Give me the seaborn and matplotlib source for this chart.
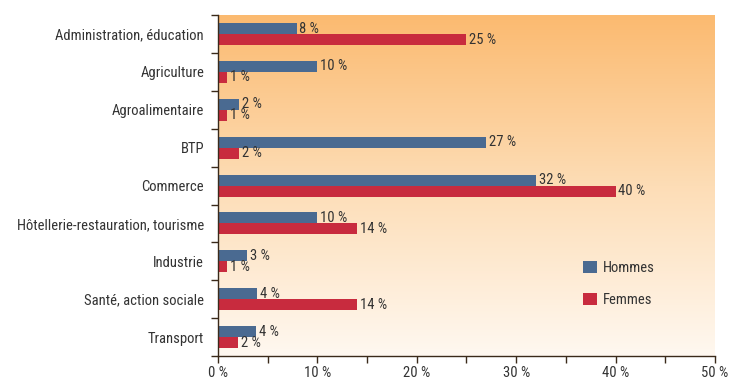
import numpy as np
import pandas as pd
import matplotlib
matplotlib.use("Agg")
import matplotlib.pyplot as plt
import seaborn as sns
from matplotlib import font_manager
from matplotlib.colors import LinearSegmentedColormap
from matplotlib.ticker import MultipleLocator

categories = ["Administration, éducation", "Agriculture", "Agroalimentaire", "BTP",
              "Commerce", "Hôtellerie-restauration, tourisme", "Industrie",
              "Santé, action sociale", "Transport"]
hommes = [7.9, 10.0, 2.1, 27.0, 32.0, 10.0, 2.9, 3.9, 3.8]
femmes = [25.0, 0.9, 0.9, 2.1, 40.0, 14.0, 0.9, 14.0, 2.0]
series = ["Hommes", "Femmes"]
xticks = [0, 10, 20, 30, 40, 50]

# choose a condensed font if one exists
fl = font_manager.fontManager.ttflist
names = {f.name for f in fl}
fam, stretch, scale = None, "normal", 1.0
for cand in ["Roboto Condensed", "Liberation Sans Narrow", "Open Sans Condensed",
             "Noto Sans Condensed", "DejaVu Sans Condensed"]:
    if cand in names:
        fam = cand
        break
if fam is None:
    cond = [f for f in fl if str(f.stretch) in ("condensed", "semi-condensed", "extra-condensed")
            or (isinstance(f.stretch, int) and f.stretch < 500)]
    pref = [f for f in cond if f.name in ("Noto Sans", "Roboto", "Open Sans", "DejaVu Sans")]
    if pref:
        fam = pref[0].name
        stretch = "condensed"
    else:
        fam = "Roboto"
        scale = 0.92

sns.set_theme(style="white")
plt.rcParams["font.family"] = [fam, "DejaVu Sans"]
plt.rcParams["font.stretch"] = stretch

df = pd.DataFrame({
    "cat": categories * 2,
    "val": hommes + femmes,
    "sexe": [series[0]] * len(categories) + [series[1]] * len(categories),
})

fig = plt.figure(figsize=(7.33, 3.78), dpi=100)
ax = fig.add_axes([0.2974, 0.058, 0.678, 0.902])

# gradient background
cmap = LinearSegmentedColormap.from_list("bg", ["#FFF8F0", "#FDDDB6", "#FBBA70"])
grad = np.linspace(0, 1, 256).reshape(-1, 1)
ax.imshow(grad, aspect="auto", cmap=cmap, origin="lower",
          extent=[0, 50, len(categories) - 0.5, -0.5], zorder=0)

palette = {"Hommes": "#4A6A91", "Femmes": "#C82B3E"}
sns.barplot(data=df, y="cat", x="val", hue="sexe", orient="h", palette=palette,
            width=0.58, dodge=True, ax=ax, saturation=1, zorder=2, linewidth=0)

fs = 10.5 * scale
for cont in ax.containers:
    labels = [f"{round(v.get_width()):d} %" for v in cont]
    ax.bar_label(cont, labels=labels, padding=2, fontsize=fs, color="#333333")

ax.set_xlim(0, 50)
ax.set_ylim(len(categories) - 0.5, -0.5)
ax.set_xlabel("")
ax.set_ylabel("")

ax.set_xticks(xticks)
ax.set_xticklabels([f"{t} %" for t in xticks], fontsize=fs, color="#333333")
ax.xaxis.set_minor_locator(MultipleLocator(5))
ax.set_yticks(range(len(categories)))
ax.set_yticklabels(categories, fontsize=fs, color="#333333")
ax.set_yticks(np.arange(-0.5, len(categories), 1), minor=True)
ax.tick_params(axis="y", which="major", length=0, pad=10)
ax.tick_params(axis="y", which="minor", length=5, width=1, color="#3a2a1a", direction="out", left=True)
ax.tick_params(axis="x", which="both", length=5, width=1, color="#3a2a1a", direction="out", bottom=True, pad=2)

for s in ["top", "right"]:
    ax.spines[s].set_visible(False)
for s in ["left", "bottom"]:
    ax.spines[s].set_color("#3a2a1a")
    ax.spines[s].set_linewidth(1)

leg = ax.legend(loc="center left", bbox_to_anchor=(0.709, 0.212), frameon=False,
                fontsize=fs, handlelength=0.9, handleheight=0.9, labelspacing=1.2,
                handletextpad=0.4)
for t in leg.get_texts():
    t.set_color("#333333")

fig.savefig("out.png", dpi=100)
